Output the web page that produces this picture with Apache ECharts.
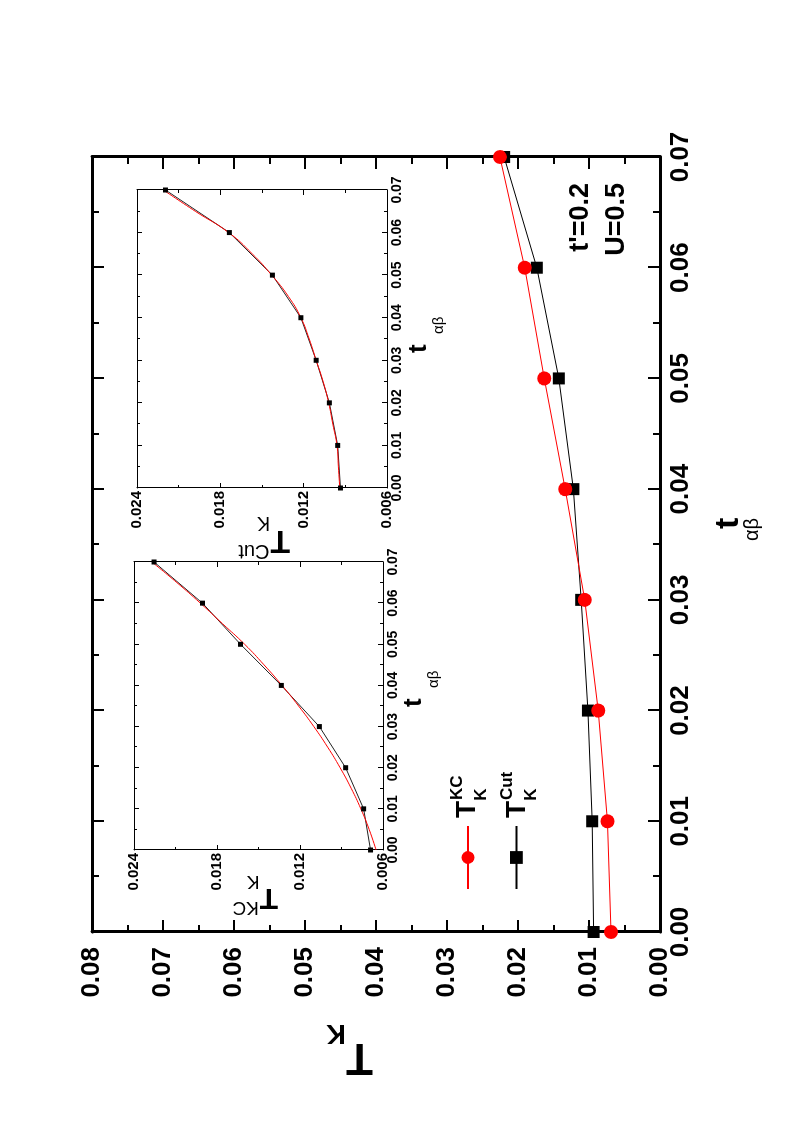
<!DOCTYPE html>
<html>
<head>
<meta charset="utf-8">
<script src="https://cdn.jsdelivr.net/npm/echarts@6/dist/echarts.min.js"></script>
<style>
html, body { margin: 0; padding: 0; background: #fff; overflow: hidden; width: 793px; height: 1135px; }
/* the figure is drawn landscape and turned a quarter turn, like the scanned page */
#chart { position: absolute; left: 0; top: 0; width: 1135px; height: 793px; transform-origin: 0 0; transform: translateY(1135px) rotate(-90deg); }
</style>
</head>
<body>
<div id="chart"></div>
<script>
// main panel data
const tVals = [0.00, 0.01, 0.02, 0.03, 0.04, 0.05, 0.06, 0.07]
const kcMain = [0.0069, 0.0074, 0.0087, 0.0106, 0.01335, 0.0163, 0.01905, 0.02255]
const cutMain = [0.00935, 0.00955, 0.01015, 0.0111, 0.0122, 0.01425, 0.01735, 0.02195]
// red fitted curves in the insets
const tFit = [0.000, 0.005, 0.010, 0.015, 0.020, 0.025, 0.030, 0.035, 0.040, 0.045, 0.050, 0.055, 0.060, 0.065, 0.070]
const kcFit = [0.0065, 0.0070, 0.0076, 0.0083, 0.0091, 0.0100, 0.0110, 0.0121, 0.0133, 0.0146, 0.0160, 0.0176, 0.0192, 0.0209, 0.0227]
const cutFit = [0.0094, 0.0095, 0.0096, 0.0099, 0.0102, 0.0106, 0.0111, 0.0116, 0.0122, 0.0131, 0.0143, 0.0157, 0.0174, 0.0198, 0.0221]

const font = '"Liberation Sans", Arial, sans-serif'
const narrow = '"Liberation Sans Narrow", "Liberation Sans", Arial, sans-serif'

const pairs = (xs, ys) => xs.map((x, i) => [x, ys[i]])

function mkAxis(gi, pos, min, max, step, big, label) {
  return {
    type: 'value', gridIndex: gi, position: pos, min: min, max: max, interval: step,
    axisLine: { show: true, onZero: false, lineStyle: { color: '#000', width: big ? 3 : 1 } },
    axisTick: { show: true, inside: true, length: big ? 12 : 5, lineStyle: { color: '#000', width: big ? 2 : 1 } },
    minorTick: { show: true, splitNumber: 2, length: big ? 7 : 3, lineStyle: { color: '#000', width: big ? 2 : 1 } },
    splitLine: { show: false },
    axisLabel: label ? Object.assign({ show: true, color: '#000', fontWeight: 'bold' }, label) : { show: false }
  }
}

// T with superscript / subscript, (x, y) = top-left of the T box
function supSub(x, y, rot, S, sup, sub, w) {
  const small = Math.round(S * 0.62)
  const ch = [{ type: 'text', x: 0, y: 0, style: { text: 'T', font: 'bold ' + S + 'px ' + font, fill: '#000', verticalAlign: 'top' } }]
  if (sup) ch.push({ type: 'text', x: 0.64 * S, y: -0.15 * S, style: { text: sup, font: w + ' ' + small + 'px ' + font, fill: '#000', verticalAlign: 'top' } })
  if (sub) ch.push({ type: 'text', x: 0.62 * S, y: 0.72 * S, style: { text: sub, font: w + ' ' + small + 'px ' + font, fill: '#000', verticalAlign: 'top' } })
  return { type: 'group', x: x, y: y, rotation: rot, children: ch }
}

// t with the αβ subscript; dx, dy place the subscript relative to the t
function tab(x, y, S, s, dx, dy) {
  return { type: 'group', x: x, y: y, children: [
    { type: 'text', x: 0, y: 0, style: { text: 't', font: 'bold ' + S + 'px ' + font, fill: '#000', verticalAlign: 'top' } },
    { type: 'text', x: dx, y: dy, style: { text: 'αβ', font: s + 'px ' + font, fill: '#000', verticalAlign: 'top' } }
  ] }
}

const fmt2 = (v) => v.toFixed(2)
const fmt3 = (v) => v.toFixed(3)
const bigLab = { fontSize: 26, fontFamily: font, formatter: fmt2 }
const insX = { fontSize: 14, fontFamily: narrow, margin: 3, formatter: fmt2 }
const insY = { fontSize: 15, fontFamily: narrow, margin: 3, formatter: fmt3 }

let myChart = echarts.init(document.getElementById('chart'))
let option = {
  animation: false,
  backgroundColor: '#fff',
  grid: [
    { left: 203, top: 92, width: 775, height: 568 },
    { left: 647, top: 137, width: 298, height: 250 },
    { left: 285, top: 134, width: 288, height: 249 }
  ],
  xAxis: [
    mkAxis(0, 'bottom', 0, 0.07, 0.01, true, Object.assign({ margin: 8 }, bigLab)),
    mkAxis(0, 'top', 0, 0.07, 0.01, true, null),
    mkAxis(1, 'bottom', 0, 0.07, 0.01, false, insX),
    mkAxis(1, 'top', 0, 0.07, 0.01, false, null),
    mkAxis(2, 'bottom', 0, 0.07, 0.01, false, insX),
    mkAxis(2, 'top', 0, 0.07, 0.01, false, null)
  ],
  yAxis: [
    mkAxis(0, 'left', 0, 0.08, 0.01, true, Object.assign({ margin: 15 }, bigLab)),
    mkAxis(0, 'right', 0, 0.08, 0.01, true, null),
    mkAxis(1, 'left', 0.006, 0.024, 0.006, false, insY),
    mkAxis(1, 'right', 0.006, 0.024, 0.006, false, null),
    mkAxis(2, 'left', 0.006, 0.024, 0.006, false, insY),
    mkAxis(2, 'right', 0.006, 0.024, 0.006, false, null)
  ],
  legend: {
    data: ['KC', 'Cut'], orient: 'vertical', left: 245, top: 460, padding: 0,
    itemWidth: 63, itemHeight: 16, itemGap: 34, selectedMode: false,
    formatter: () => '', textStyle: { fontSize: 1 }
  },
  series: [
    {
      name: 'Cut', type: 'line', xAxisIndex: 0, yAxisIndex: 0, data: pairs(tVals, cutMain),
      symbol: 'rect', symbolSize: 12, color: '#000', lineStyle: { width: 1, color: '#000' }
    },
    {
      name: 'KC', type: 'line', xAxisIndex: 0, yAxisIndex: 0, data: pairs(tVals, kcMain),
      symbol: 'circle', symbolSize: 14, color: '#ff0000', lineStyle: { width: 1, color: '#ff0000' }
    },
    {
      name: 'Cut inset', type: 'line', xAxisIndex: 2, yAxisIndex: 2, data: pairs(tVals, cutMain),
      symbol: 'rect', symbolSize: 5, color: '#000', lineStyle: { width: 1, color: '#222' }
    },
    {
      name: 'Cut fit', type: 'line', xAxisIndex: 2, yAxisIndex: 2, data: pairs(tFit, cutFit),
      smooth: true, showSymbol: false, symbol: 'none', lineStyle: { width: 1, color: '#ff0000' }
    },
    {
      name: 'KC inset', type: 'line', xAxisIndex: 4, yAxisIndex: 4, data: pairs(tVals, kcMain),
      symbol: 'rect', symbolSize: 5, color: '#000', lineStyle: { width: 1, color: '#222' }
    },
    {
      name: 'KC fit', type: 'line', xAxisIndex: 4, yAxisIndex: 4, data: pairs(tFit, kcFit),
      smooth: true, showSymbol: false, symbol: 'none', lineStyle: { width: 1, color: '#ff0000' }
    }
  ],
  graphic: [
    // axis titles
    supSub(57, 373, Math.PI / 2, 44, null, 'K', 'bold'),
    supSub(579, 290, Math.PI / 2, 32, 'Cut', 'K', 'normal'),
    supSub(223, 278, Math.PI / 2, 30, 'KC', 'K', 'normal'),
    tab(606, 712, 34, 20, -12, 30),
    tab(782, 406, 26, 15, 19, 25),
    tab(428, 401, 26, 15, 19, 25),
    // legend texts
    supSub(317, 453, 0, 28, 'KC', 'K', 'bold'),
    supSub(317, 503, 0, 28, 'Cut', 'K', 'bold'),
    // parameters
    { type: 'text', x: 952, y: 567, style: { text: "t'=0.2", font: 'bold 27px ' + font, fill: '#000', align: 'right', verticalAlign: 'top' } },
    { type: 'text', x: 952, y: 603, style: { text: 'U=0.5', font: 'bold 27px ' + font, fill: '#000', align: 'right', verticalAlign: 'top' } }
  ]
}
myChart.setOption(option)
</script>
</body>
</html>
